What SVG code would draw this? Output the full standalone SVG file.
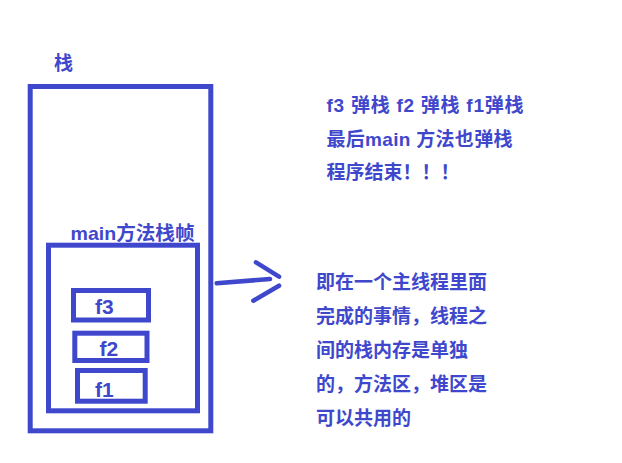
<svg xmlns="http://www.w3.org/2000/svg" width="622" height="463" viewBox="0 0 622 463">
<style>
.box{fill:none;stroke:#3F48CC;stroke-width:5}
.t{fill:#3F48CC;font-family:"Liberation Sans","Noto Sans CJK SC",sans-serif;font-weight:bold;font-size:19px}
.f{font-size:21px}
.c{stroke:#3F48CC;stroke-width:4.5;stroke-linecap:round;fill:none}
</style>
<rect width="622" height="463" fill="#ffffff"/>
<g id="stack">
<rect class="box" x="30.2" y="86.5" width="180.6" height="344.3"/>
<text class="t" x="54" y="70">栈</text>
</g>
<g id="main-frame">
<rect class="box" x="48.5" y="245.2" width="149" height="165.6"/>
<text class="t" x="70.5" y="239.5" textLength="124" lengthAdjust="spacingAndGlyphs">main方法栈帧</text>
</g>
<g id="f3">
<rect class="box" x="73.5" y="290.5" width="75" height="29.5"/>
<text class="t f" x="95" y="314">f3</text>
</g>
<g id="f2">
<rect class="box" x="74.8" y="333.2" width="72.2" height="27.3"/>
<text class="t f" x="99.5" y="355.5">f2</text>
</g>
<g id="f1">
<rect class="box" x="77.5" y="370.5" width="67.7" height="30.7"/>
<text class="t f" x="95" y="396.5">f1</text>
</g>
<g id="connectors">
<path class="c" d="M216.7,283.3 L270,279"/>
<path class="c" d="M256,262.3 L279,276.7"/>
<path class="c" d="M279,285.7 L253.3,300.7"/>
</g>
<g id="note-top">
<text class="t" x="326.5" y="112" xml:space="preserve" textLength="197" lengthAdjust="spacing">f3 弹栈 f2 弹栈 f1弹栈</text>
<text class="t" x="326.5" y="146" xml:space="preserve" textLength="186" lengthAdjust="spacing">最后main 方法也弹栈</text>
<text class="t" x="326.5" y="179">程序结束！！！</text>
</g>
<g id="note-bottom">
<text class="t" x="316" y="289">即在一个主线程里面</text>
<text class="t" x="316" y="323">完成的事情，线程之</text>
<text class="t" x="316" y="357">间的栈内存是单独</text>
<text class="t" x="316" y="391">的，方法区，堆区是</text>
<text class="t" x="316" y="425">可以共用的</text>
</g>
</svg>
